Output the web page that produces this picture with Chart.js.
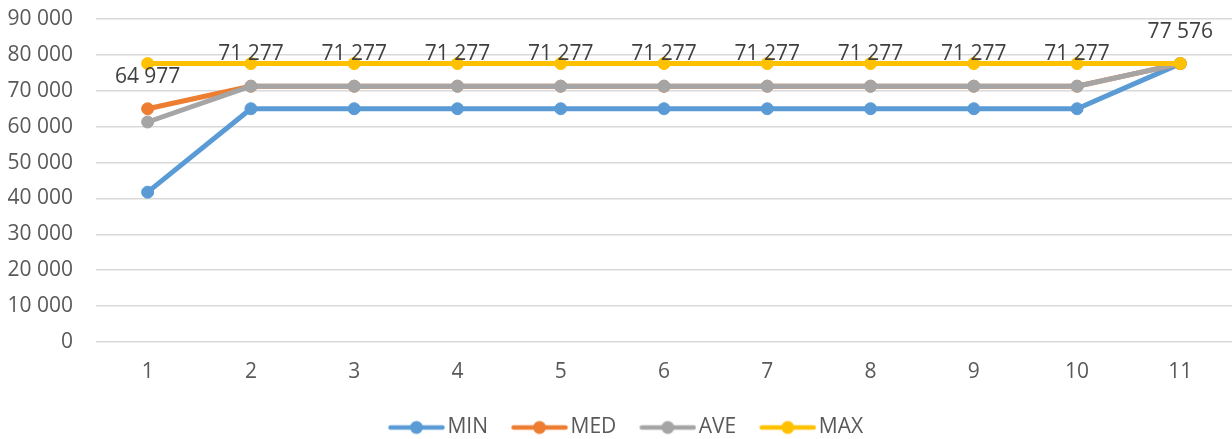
<!DOCTYPE html>
<html>
<head>
<meta charset="utf-8">
<script src="https://cdn.jsdelivr.net/npm/chart.js@4/dist/chart.umd.min.js"></script>
<style>
  html, body { margin: 0; padding: 0; background: #ffffff; overflow: hidden; }
  #wrap { width: 1232px; height: 439px; position: relative; }
  canvas { display: block; }
</style>
</head>
<body>
<div id="wrap"><canvas id="chart"></canvas></div>
<script>
// categories and series
const categories = ['1', '2', '3', '4', '5', '6', '7', '8', '9', '10', '11'];
const minValues = [41750, 65000, 65000, 65000, 65000, 65000, 65000, 65000, 65000, 65000, 77576];
const medValues = [64977, 71277, 71277, 71277, 71277, 71277, 71277, 71277, 71277, 71277, 77576];
const aveValues = [61300, 71277, 71277, 71277, 71277, 71277, 71277, 71277, 71277, 71277, 77576];
const maxValues = [77576, 77576, 77576, 77576, 77576, 77576, 77576, 77576, 77576, 77576, 77576];
const seriesNames = ['MIN', 'MED', 'AVE', 'MAX'];
const seriesColors = ['#5B9BD5', '#ED7D31', '#A5A5A5', '#FFC000'];

const FONT = '"Open Sans", "Liberation Sans", sans-serif';

/** Formats a number with a space as thousands separator, e.g. 71 277 */
function fmt(v) {
  return String(Math.round(v)).replace(/\B(?=(\d{3})+(?!\d))/g, ' ');
}

/** Legend marker: a line with a dot in the middle, like the Office legend */
const BOX_W = 68;
function legendMarker(color) {
  const c = document.createElement('canvas');
  c.width = BOX_W + 16;
  c.height = 16;
  const g = c.getContext('2d');
  g.strokeStyle = color;
  g.lineWidth = 4.5;
  g.lineCap = 'round';
  g.beginPath();
  g.moveTo(29.5, 8);
  g.lineTo(BOX_W + 13.5, 8);
  g.stroke();
  g.fillStyle = color;
  g.beginPath();
  g.arc((29.5 + BOX_W + 13.5) / 2, 8, 6.5, 0, Math.PI * 2);
  g.fill();
  return c;
}
const markers = seriesColors.map(legendMarker);

// labels above the MED series
const medLabels = {
  id: 'medLabels',
  afterDatasetsDraw(chart) {
    const meta = chart.getDatasetMeta(1);
    const ctx = chart.ctx;
    ctx.save();
    ctx.font = '21px ' + FONT;
    ctx.fillStyle = '#404040';
    ctx.textAlign = 'center';
    ctx.textBaseline = 'middle';
    meta.data.forEach((pt, i) => {
      ctx.fillText(fmt(medValues[i]), pt.x, pt.y - 32);
    });
    ctx.restore();
  }
};

function makeSet(i, values, order) {
  return {
    label: seriesNames[i],
    data: values,
    borderColor: seriesColors[i],
    backgroundColor: seriesColors[i],
    borderWidth: 5,
    borderCapStyle: 'round',
    borderJoinStyle: 'round',
    pointRadius: 6,
    pointBorderWidth: 1,
    pointBorderColor: seriesColors[i],
    pointBackgroundColor: seriesColors[i],
    tension: 0,
    clip: false,
    order
  };
}

new Chart(document.getElementById('chart'), {
  type: 'line',
  data: {
    labels: categories,
    datasets: [
      makeSet(0, minValues, 4),
      makeSet(1, medValues, 3),
      makeSet(2, aveValues, 2),
      makeSet(3, maxValues, 1)
    ]
  },
  options: {
    responsive: true,
    maintainAspectRatio: false,
    animation: false,
    layout: { autoPadding: false, padding: { top: 19, left: 0, right: 0, bottom: -9 } },
    scales: {
      x: {
        offset: true,
        grid: { display: false },
        border: { display: false },
        ticks: { color: '#595959', font: { family: FONT, size: 21 }, padding: 9 },
        afterFit: (scale) => {
          scale.height = 71;
          scale.paddingLeft = 0;
          scale.paddingRight = 0;
        }
      },
      y: {
        min: 0,
        max: 90000,
        grid: { color: '#D9D9D9', lineWidth: 1.5, drawTicks: false },
        border: { display: false },
        ticks: {
          stepSize: 10000,
          color: '#595959',
          font: { family: FONT, size: 21 },
          padding: 23,
          callback: (v) => fmt(v)
        },
        afterFit: (scale) => {
          scale.width = 96;
          scale.paddingTop = 0;
          scale.paddingBottom = 0;
        }
      }
    },
    plugins: {
      tooltip: { enabled: false },
      legend: {
        position: 'bottom',
        labels: {
          usePointStyle: true,
          pointStyleWidth: BOX_W,
          padding: 4,
          color: '#595959',
          font: { family: FONT, size: 21 },
          sort: (a, b) => a.datasetIndex - b.datasetIndex,
          generateLabels: (chart) => {
            const items = Chart.defaults.plugins.legend.labels.generateLabels(chart);
            items.forEach((it) => { it.pointStyle = markers[it.datasetIndex]; });
            return items;
          }
        }
      }
    }
  },
  plugins: [medLabels]
});
</script>
</body>
</html>
